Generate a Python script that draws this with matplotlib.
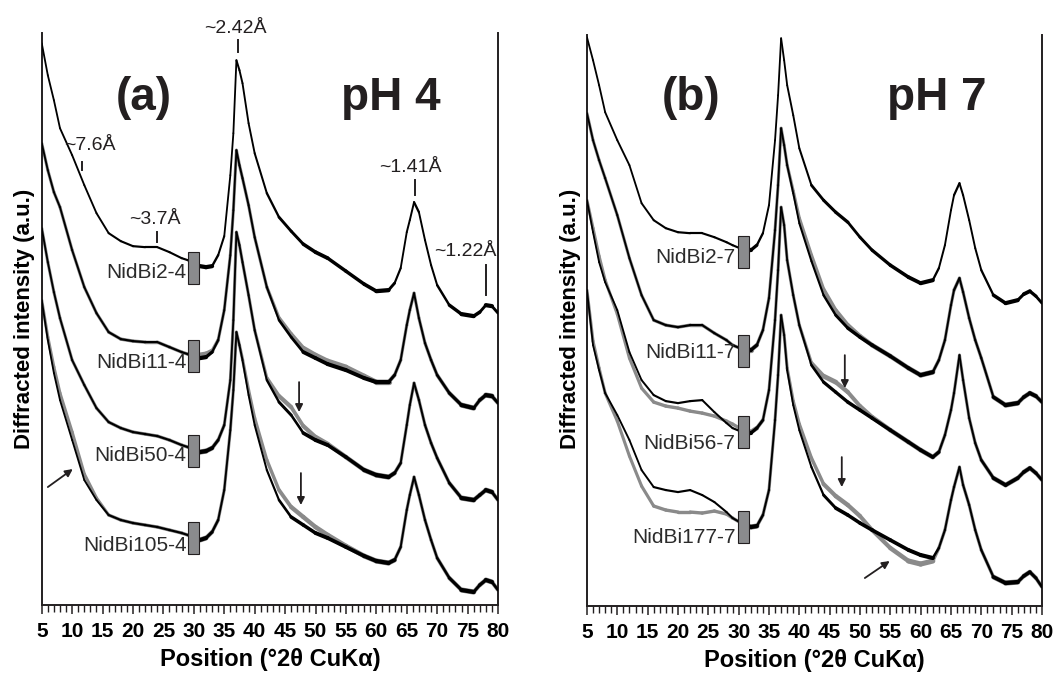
import numpy as np
import matplotlib
matplotlib.use("Agg")
import matplotlib.pyplot as plt
from matplotlib.patches import Rectangle
from matplotlib.collections import LineCollection
from matplotlib.ticker import MultipleLocator

plt.rcParams["font.family"] = ["Liberation Sans", "DejaVu Sans"]
INK = "#231f20"
GREY = "#8a8a8a"

# ---- data: position (deg 2theta) and stacked intensity (a.u.) ----
tt_a = [5, 6, 7, 8, 10, 12, 14, 16, 18, 20, 22, 24, 26, 28, 29, 31, 32, 33, 34, 35, 36,
        36.5, 37, 37.5, 38, 39, 40, 42, 44, 46, 48, 50, 52, 55, 58, 60, 62, 63, 64, 65,
        65.5, 66.2, 67, 68, 69, 70, 72, 74, 76, 77, 78, 79, 80]
tt_b = [5, 6, 7, 8, 10, 12, 14, 16, 18, 20, 22, 24, 26, 28, 29, 31, 32, 33, 34, 35, 36,
        36.5, 37, 37.5, 38, 39, 40, 42, 44, 46, 48, 50, 52, 55, 58, 60, 62, 63, 64, 65,
        65.5, 66.4, 67, 68, 69, 70, 72, 74, 76, 77, 78, 79, 80]

# pH 4
nidbi2_4 = [562, 530, 505, 477, 450, 420, 392, 372, 364, 359, 358, 358, 353, 347, 345, 339, 338,
            339, 350, 369, 430, 472, 545, 535, 522, 482, 452, 412, 388, 374, 361, 353, 347, 334,
            321, 314, 315, 322, 337, 373, 385, 403, 393, 365, 340, 320, 300, 291, 289, 293, 300,
            299, 292]
nidbi11_4 = [462, 435, 413, 398, 355, 318, 292, 273, 266, 264, 263, 263, 258, 253, 251, 247, 248,
             253, 265, 295, 350, 395, 455, 440, 427, 400, 368, 318, 285, 268, 253, 247, 241, 235,
             227, 223, 223, 230, 245, 280, 295, 312, 287, 262, 245, 230, 212, 200, 197, 205, 210,
             209, 202]
nidbi11_4_grey = [462, 435, 413, 398, 355, 318, 292, 273, 266, 264, 263, 263, 258, 253, 251, 250,
                  251, 254, 265, 295, 350, 395, 455, 440, 427, 400, 368, 318, 287, 271, 257, 250,
                  244, 238, 229, 223, 223, 230, 245, 280, 295, 312, 287, 262, 245, 230, 212, 200,
                  197, 205, 210, 209, 202]
nidbi50_4 = [377, 343, 313, 287, 245, 220, 197, 183, 177, 173, 171, 169, 165, 160, 158, 153, 154,
             157, 165, 180, 225, 285, 373, 360, 343, 310, 275, 225, 203, 190, 172, 165, 160, 148,
             135, 130, 128, 132, 142, 180, 200, 222, 205, 180, 162, 147, 122, 107, 105, 110, 115,
             113, 105]
nidbi50_4_grey = [377, 343, 313, 287, 245, 220, 197, 183, 177, 173, 171, 169, 165, 160, 158, 153,
                  154, 157, 165, 180, 225, 285, 373, 360, 343, 310, 275, 227, 209, 198, 179, 168,
                  161, 148, 135, 130, 128, 132, 142, 180, 200, 222, 205, 180, 162, 147, 122, 107,
                  105, 110, 115, 113, 105]
nidbi105_4 = [305, 265, 232, 205, 165, 125, 105, 90, 85, 82, 80, 78, 75, 72, 70, 65, 67, 73, 85,
              115, 175, 215, 273, 260, 245, 210, 180, 135, 105, 88, 80, 72, 67, 58, 49, 44, 42, 45,
              58, 95, 110, 128, 110, 85, 65, 47, 27, 15, 13, 20, 25, 23, 15]
nidbi105_4_grey = [305, 268, 238, 212, 173, 131, 107, 90, 85, 82, 80, 78, 75, 72, 70, 65, 67, 73,
                   85, 115, 175, 215, 273, 260, 246, 215, 187, 145, 115, 98, 88, 78, 70, 59, 49,
                   44, 42, 45, 58, 95, 110, 128, 110, 85, 65, 47, 27, 15, 13, 20, 25, 23, 15]

# pH 7
nidbi2_7 = [569, 546, 521, 494, 466, 441, 403, 386, 378, 374, 373, 373, 369, 364, 361, 356, 356,
            361, 373, 401, 466, 511, 568, 546, 521, 491, 458, 421, 406, 394, 384, 369, 356, 341,
            329, 323, 326, 338, 361, 396, 411, 423, 411, 386, 358, 336, 311, 303, 306, 312, 315,
            310, 303]
nidbi11_7 = [493, 466, 446, 428, 391, 348, 311, 286, 281, 279, 281, 281, 273, 266, 261, 256, 256,
             261, 276, 308, 376, 421, 478, 461, 441, 413, 383, 345, 311, 291, 278, 269, 261, 250,
             238, 231, 234, 246, 266, 301, 316, 328, 314, 288, 266, 248, 209, 201, 203, 209, 213,
             210, 204]
nidbi11_7_grey = [493, 466, 446, 428, 391, 348, 311, 286, 281, 279, 281, 281, 273, 266, 261, 256,
                  256, 261, 276, 308, 376, 421, 478, 461, 441, 415, 388, 351, 317, 296, 281, 270,
                  261, 250, 238, 231, 234, 246, 266, 301, 316, 328, 314, 288, 266, 248, 209, 201,
                  203, 209, 213, 210, 204]
nidbi56_7 = [406, 374, 344, 324, 296, 254, 226, 211, 205, 203, 205, 206, 194, 183, 178, 173, 173,
             178, 186, 216, 286, 336, 399, 381, 346, 311, 281, 241, 224, 214, 204, 196, 188, 176,
             164, 156, 149, 154, 171, 196, 213, 251, 226, 188, 163, 146, 128, 121, 128, 134, 138,
             133, 126]
nidbi56_7_grey = [406, 378, 350, 326, 292, 248, 218, 204, 200, 198, 195, 193, 190, 185, 182, 175,
                  174, 178, 186, 216, 286, 336, 399, 381, 346, 311, 281, 243, 230, 224, 214, 200,
                  189, 176, 164, 156, 149, 154, 171, 196, 213, 251, 226, 188, 163, 146, 128, 121,
                  128, 134, 138, 133, 126]
nidbi177_7 = [316, 261, 236, 213, 191, 166, 136, 119, 116, 114, 116, 111, 104, 94, 88, 81, 79, 80,
              91, 116, 186, 231, 291, 271, 236, 201, 176, 139, 111, 98, 91, 83, 76, 66, 56, 51, 48,
              58, 76, 106, 119, 139, 121, 101, 76, 56, 29, 23, 24, 30, 34, 28, 19]
nidbi177_7_grey = [316, 265, 238, 213, 185, 150, 120, 100, 96, 94, 94, 93, 95, 92, 88, 81, 79, 80,
                   91, 116, 186, 231, 291, 271, 238, 205, 182, 148, 122, 110, 101, 90, 76, 58, 45,
                   42, 45, 58, 76, 106, 119, 139, 121, 101, 76, 56, 29, 23, 24, 30, 34, 28, 19]

labels_a = ["NidBi2-4", "NidBi11-4", "NidBi50-4", "NidBi105-4"]
labels_b = ["NidBi2-7", "NidBi11-7", "NidBi56-7", "NidBi177-7"]


def style_axis(ax, ytop):
    ax.set_xlim(5, 80)
    ax.set_ylim(0, ytop)
    ax.spines["top"].set_visible(False)
    for s in ("left", "right", "bottom"):
        ax.spines[s].set_linewidth(1.4)
        ax.spines[s].set_color(INK)
    ax.set_yticks([])
    ax.xaxis.set_major_locator(MultipleLocator(5))
    ax.xaxis.set_minor_locator(MultipleLocator(1))
    ax.tick_params(axis="x", which="major", direction="out", length=6.5, width=1.1,
                   color=INK, pad=6, labelsize=15)
    ax.tick_params(axis="x", which="minor", direction="out", length=5, width=1.0, color=INK)
    for t in ax.get_xticklabels():
        t.set_fontweight("bold")
    ax.set_xlabel("Position (°2θ CuKα)", fontsize=17, fontweight="bold", labelpad=5)


def trace(ax, tt, yy, color, base, fuzz, z):
    # the recorded patterns are noisy: flat, high-angle stretches look thick, steep flanks thin
    pts = ax.transData.transform(np.column_stack([tt, yy]))
    d = np.diff(pts, axis=0)
    cosang = np.abs(d[:, 0]) / np.hypot(d[:, 0], d[:, 1])
    xm = 0.5 * (np.asarray(tt[:-1], float) + np.asarray(tt[1:], float))
    amp = np.where(xm > 30, fuzz, fuzz * 0.15)
    segs = np.stack([np.column_stack([tt[:-1], yy[:-1]]),
                     np.column_stack([tt[1:], yy[1:]])], axis=1)
    lc = LineCollection(segs, colors=color, linewidths=base + amp * cosang ** 2,
                        capstyle="round", joinstyle="round", zorder=z)
    ax.add_collection(lc)


def draw_traces(ax, tt, black, grey):
    for g in grey:
        trace(ax, tt, g, GREY, 2.2, 1.6, 2)
    for b in black:
        trace(ax, tt, b, "black", 1.3, 1.8, 3)


def draw_tags(ax, labels, xlab, xbox, box_bottoms, label_ys):
    for lab, yb, yl in zip(labels, box_bottoms, label_ys):
        ax.add_patch(Rectangle((xbox, yb), 1.8, 32, facecolor="#8a8b8d", edgecolor=INK,
                               lw=0.8, zorder=5))
        ax.text(xlab, yl, lab, ha="right", va="center", fontsize=15, color="#2b2b2b", zorder=6)


def arrow(ax, tail, tip):
    ax.annotate("", xy=tip, xytext=tail,
                arrowprops=dict(arrowstyle="-|>", color=INK, lw=1.3, mutation_scale=11,
                                shrinkA=0, shrinkB=0), zorder=6)


fig = plt.figure(figsize=(10.54, 6.79), dpi=100)
ax_a = fig.add_axes([0.0396, 0.109, 0.4329, 0.842])
ax_b = fig.add_axes([0.5569, 0.1075, 0.4317, 0.8405])

# ---- panel (a) pH 4 ----
style_axis(ax_a, 572)
draw_traces(ax_a, tt_a, [nidbi2_4, nidbi11_4, nidbi50_4, nidbi105_4],
            [nidbi11_4_grey, nidbi50_4_grey, nidbi105_4_grey])
draw_tags(ax_a, labels_a, 28.8, 29.1, [321, 233, 138, 51], [333, 243, 150, 60])
ax_a.text(21.7, 495, "(a)", fontsize=33, fontweight="bold", color=INK, ha="center", va="baseline")
ax_a.text(62.4, 495, "pH 4", fontsize=33, fontweight="bold", color=INK, ha="center", va="baseline")

# d-spacing markers
dspacings = [("~7.6Å", 11.6, 435, 443, 12.9, 451),
             ("~3.7Å", 24.0, 363, 373, 23.6, 377),
             ("~2.42Å", 37.2, 553, 565, 36.8, 568),
             ("~1.41Å", 66.3, 410, 425, 65.6, 429),
             ("~1.22Å", 78.1, 310, 340, 74.6, 345)]
for txt, xv, y0, y1, xt, yt in dspacings:
    ax_a.plot([xv, xv], [y0, y1], color=INK, lw=1.4, clip_on=False, zorder=4)
    ax_a.text(xt, yt, txt, ha="center", va="bottom", fontsize=14, color=INK, clip_on=False)

arrow(ax_a, (47.3, 223), (47.3, 193))
arrow(ax_a, (47.6, 132), (47.6, 100))
arrow(ax_a, (6.0, 118), (10.1, 136))

# ---- panel (b) pH 7 ----
style_axis(ax_b, 571)
draw_traces(ax_b, tt_b, [nidbi2_7, nidbi11_7, nidbi56_7, nidbi177_7],
            [nidbi11_7_grey, nidbi56_7_grey, nidbi177_7_grey])
draw_tags(ax_b, labels_b, 29.5, 29.9, [338, 239, 158, 63], [349, 254, 163, 69])
ax_b.text(22.1, 496, "(b)", fontsize=33, fontweight="bold", color=INK, ha="center", va="baseline")
ax_b.text(62.7, 496, "pH 7", fontsize=33, fontweight="bold", color=INK, ha="center", va="baseline")

arrow(ax_b, (47.5, 251), (47.5, 218))
arrow(ax_b, (47.0, 149), (47.0, 119))
arrow(ax_b, (50.8, 28), (54.9, 45))

for xf in (0.0228, 0.5417):
    fig.text(xf, 0.53, "Diffracted intensity (a.u.)", rotation=90, ha="center", va="center",
             fontsize=16, fontweight="bold", color="black")

fig.savefig("out.png", dpi=100)
